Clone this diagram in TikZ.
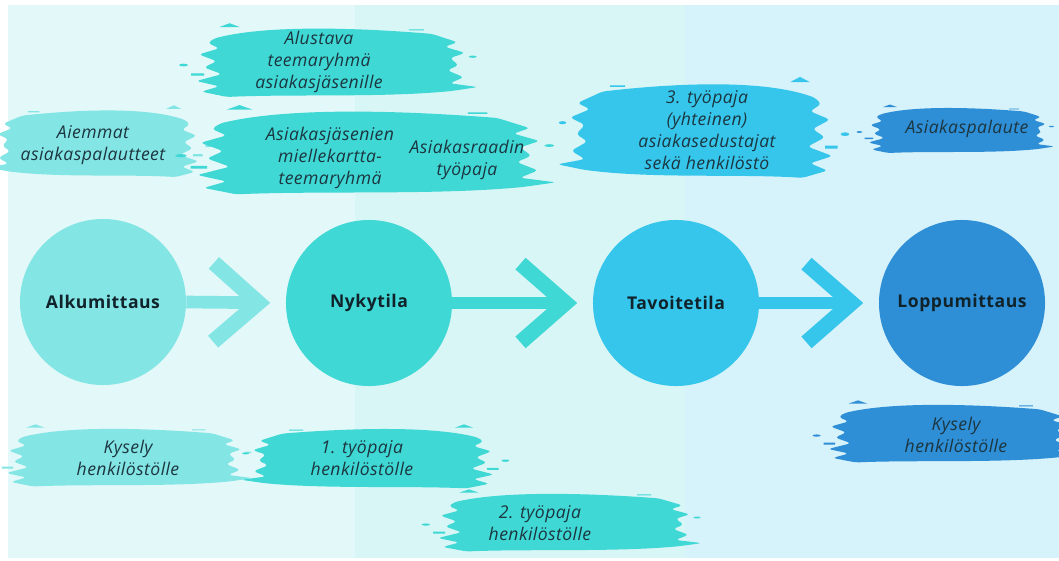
\documentclass[tikz,border=0pt]{standalone}
\usepackage{fontspec}
\setmainfont{Open Sans}
\newfontfamily\notefont[LetterSpace=2.5]{Open Sans}
\newfontfamily\stagefont[LetterSpace=3]{Open Sans}
\usetikzlibrary{arrows.meta}
\definecolor{bgA}{HTML}{E2F8F9}
\definecolor{bgB}{HTML}{D8F6F6}
\definecolor{bgC}{HTML}{D6F2FA}
\definecolor{cAlku}{HTML}{84E5E5}
\definecolor{cNyky}{HTML}{3FD8D5}
\definecolor{cTavo}{HTML}{36C6EC}
\definecolor{cLoppu}{HTML}{2E8ED6}
\definecolor{ink}{HTML}{1C3640}
\definecolor{inkdark}{HTML}{10232A}
% brush stroke: centre x, centre y, half width, half height, colour
\newcommand{\brush}[5]{%
  \fill[#5, rounded corners=2.5pt, shift={(#1,#2)}, xscale=#3, yscale=#4]
    (-0.92,-0.62) .. controls (-0.5,-0.98) and (0.2,-0.9) .. (0.78,-0.74)
    -- (0.98,-0.52) -- (0.88,-0.4) -- (1.04,-0.24) -- (0.92,-0.1) -- (0.99,0.08)
    -- (0.9,0.22) -- (1.03,0.4) -- (0.92,0.56) -- (1.14,0.66) -- (0.94,0.76)
    .. controls (0.4,0.94) and (-0.3,0.84) .. (-0.82,0.92)
    -- (-1.02,0.78) -- (-0.88,0.64) -- (-1.06,0.5) -- (-0.86,0.32)
    -- (-1.0,0.14) -- (-0.9,-0.02) -- (-1.04,-0.2) -- (-0.88,-0.36) -- (-0.97,-0.5) -- cycle;
  \fill[#5, shift={(#1,#2)}, xscale=#3, yscale=#4]
    (-0.8,-1.02) -- (-0.72,-0.92) -- (-0.88,-0.92) -- cycle
    (-1.16,0.08) circle (0.035)
    (-1.1,0.3) rectangle (-1.0,0.36)
    (1.1,-0.14) circle (0.03)
    (0.6,-0.86) rectangle (0.72,-0.83);
}
\tikzset{
  stage/.style={circle, minimum size=4.15cm, inner sep=0pt,
    font=\stagefont\bfseries\fontsize{12.5}{15}\selectfont, text=inkdark},
  note/.style={align=center, inner sep=1pt,
    font=\notefont\itshape\fontsize{12.5}{15.8}\selectfont, text=ink},
  flow/.style={line width=9pt, shorten >=11pt,
    -{Straight Barb[length=32pt,width=56pt,line width=11pt]}}
}
\begin{document}
\begin{tikzpicture}[x=0.025cm,y=-0.025cm]
\useasboundingbox (0,0) rectangle (1059,560);
\fill[white] (0,0) rectangle (1059,560);
\fill[bgA] (8,5) rectangle (355,558);
\fill[bgB] (355,5) rectangle (685,558);
\fill[bgC] (685,5) rectangle (1059,558);

% brush strokes
\brush{332}{62}{128}{38}{cNyky}
\brush{97}{143}{-96}{37}{cAlku}
\brush{370}{152}{163}{46}{cNyky}
\brush{700}{130}{-125}{52}{cTavo}
\brush{958}{130}{85}{25}{cLoppu}
\brush{125}{457}{112}{32}{cAlku}
\brush{372}{458}{-115}{33}{cNyky}
\brush{565}{522}{120}{32}{cNyky}
\brush{950}{433}{115}{32}{cLoppu}

\node[note] (alustava) at (319,62) {Alustava\\teemaryhmä\\asiakasjäsenille};
\node[note] (aiemmat) at (93,145) {Aiemmat\\asiakaspalautteet};
\node[note] (mielle) at (330,158) {Asiakasjäsenien\\miellekartta-\\teemaryhmä};
\node[note] (raati) at (467,160) {Asiakasraadin\\työpaja};
\node[note] (tp3) at (707,130) {3. työpaja\\(yhteinen)\\asiakasedustajat\\sekä henkilöstö};
\node[note] (palaute) at (967,129) {Asiakaspalaute};
\node[note] (kysely1) at (128,458) {Kysely\\henkilöstölle};
\node[note] (tp1) at (362,458) {1. työpaja\\henkilöstölle};
\node[note] (tp2) at (540,523) {2. työpaja\\henkilöstölle};
\node[note] (kysely2) at (956,435) {Kysely\\henkilöstölle};

% stages
\node[stage, fill=cAlku] (alku) at (103,302) {Alkumittaus};
\node[stage, fill=cNyky] (nyky) at (369,303) {Nykytila};
\node[stage, fill=cTavo] (tavo) at (676,303) {Tavoitetila};
\node[stage, fill=cLoppu] (loppu) at (962,303) {Loppumittaus};

\draw[flow, cAlku] (alku.east) -- (nyky.west);
\draw[flow, cNyky] (nyky.east) -- (tavo.west);
\draw[flow, cTavo] (tavo.east) -- (loppu.west);
\end{tikzpicture}
\end{document}
